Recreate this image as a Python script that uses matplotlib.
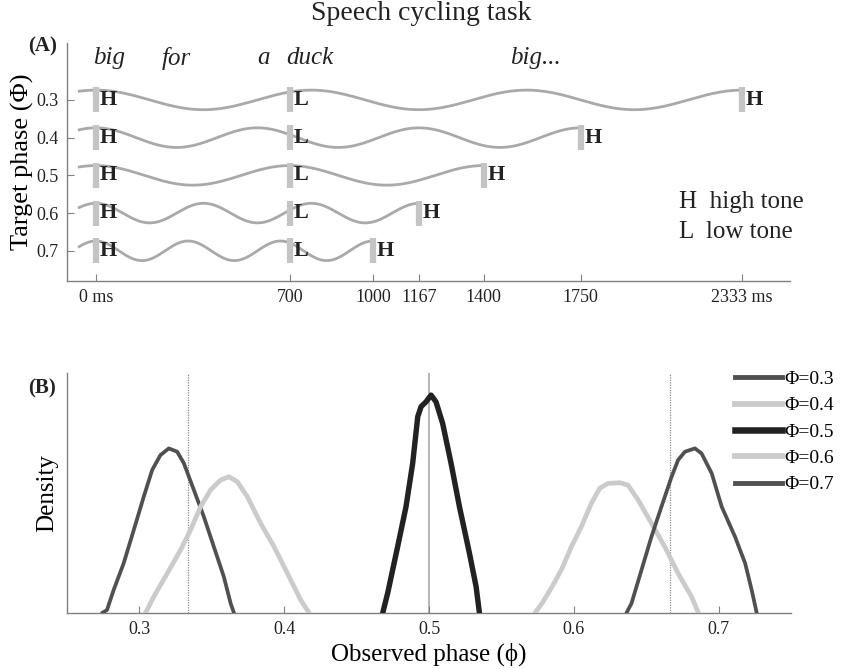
import numpy as np
import matplotlib
matplotlib.use('Agg')
import matplotlib.pyplot as plt
from matplotlib.lines import Line2D

plt.rcParams['font.family'] = ['Liberation Serif', 'DejaVu Serif']

# panel A: speech cycling schematic
target_phase = [0.3, 0.4, 0.5, 0.6, 0.7]
cycle_ms = [2333, 1750, 1400, 1167, 1000]     # next "big" onset
wave_cycles = [3, 3, 2, 3, 3]                  # oscillations drawn per cycle
l_onset = 700
xticks_a = [0, 700, 1000, 1167, 1400, 1750, 2333]
xticklabels_a = ['0 ms', '700', '1000', '1167', '1400', '1750', '2333 ms']
words = ['big', 'for', 'a', 'duck', 'big...']
word_ms = [-10, 239, 581, 689, 1496]

# panel B: observed phase densities (relative height)
x03 = [0.2742, 0.2776, 0.2822, 0.2891, 0.2961, 0.303, 0.3088, 0.3145, 0.3203, 0.3261, 0.3307,
       0.3376, 0.3445, 0.3514, 0.3583, 0.363, 0.3653]
y03 = [0.0, 0.0125, 0.096, 0.207, 0.346, 0.485, 0.596, 0.658, 0.686, 0.672, 0.624,
       0.5125, 0.401, 0.276, 0.151, 0.040, 0.0]
x04 = [0.3042, 0.3099, 0.3192, 0.3284, 0.3353, 0.3422, 0.3491, 0.356, 0.3618, 0.3676, 0.3745,
       0.3837, 0.393, 0.4022, 0.4114, 0.4172]
y04 = [0.0, 0.068, 0.165, 0.2625, 0.346, 0.443, 0.5125, 0.554, 0.568, 0.547, 0.485,
       0.374, 0.276, 0.165, 0.054, 0.0]
x05 = [0.468, 0.4714, 0.4783, 0.4841, 0.4887, 0.4922, 0.4945, 0.4979, 0.5014, 0.5048, 0.5094,
       0.5152, 0.521, 0.5279, 0.5325, 0.5348]
y05 = [0.0, 0.082, 0.276, 0.443, 0.624, 0.818, 0.86, 0.88, 0.908, 0.88, 0.79,
       0.624, 0.443, 0.249, 0.11, 0.0]
x06 = [0.573, 0.578, 0.585, 0.5913, 0.5983, 0.6052, 0.6121, 0.6179, 0.6236, 0.6317, 0.6374,
       0.6444, 0.6536, 0.6628, 0.672, 0.6813, 0.686]
y06 = [0.0, 0.04, 0.11, 0.179, 0.276, 0.36, 0.457, 0.52, 0.54, 0.543, 0.533,
       0.471, 0.374, 0.276, 0.165, 0.068, 0.0]
x07 = [0.6363, 0.6398, 0.6467, 0.6536, 0.6605, 0.6675, 0.672, 0.6767, 0.6836, 0.6882, 0.6952,
       0.7021, 0.7113, 0.7183, 0.7228, 0.7263]
y07 = [0.0, 0.04, 0.179, 0.318, 0.443, 0.568, 0.6375, 0.672, 0.686, 0.665, 0.582,
       0.443, 0.318, 0.207, 0.096, 0.0]
ref_phases = [1 / 3, 0.5, 2 / 3]

fig = plt.figure(figsize=(8.42, 6.69), dpi=100)

# ---------- (A) ----------
axA = fig.add_axes([0.0796, 0.580, 0.8587, 0.3558])
amp = 0.026
for ph, T, nc in zip(target_phase, cycle_ms, wave_cycles):
    t = np.linspace(-60, T, 600)
    axA.plot(t, ph - amp * np.cos(2 * np.pi * nc * t / T), color='#a9a9a9',
             lw=2.0, zorder=2)
    for tm, lab in [(0, 'H'), (l_onset, 'L'), (T, 'H')]:
        axA.vlines(tm, ph - 0.033, ph + 0.033, color='#c4c4c4', lw=4.5, zorder=3)
        axA.text(tm + 14, ph, lab, fontsize=16, fontweight='bold', color='#222222',
                 ha='left', va='center', zorder=4)

for w, tm in zip(words, word_ms):
    axA.text(tm, 0.19, w, fontsize=18, style='italic', ha='left', va='center', color='#222222')

axA.text(2106, 0.570, 'H  high tone', fontsize=18, ha='left', va='center', color='#222222')
axA.text(2106, 0.650, 'L  low tone', fontsize=18, ha='left', va='center', color='#222222')

axA.set_xlim(-104, 2506)
axA.set_ylim(0.78, 0.149)
axA.set_xticks(xticks_a)
axA.set_xticklabels(xticklabels_a)
axA.set_yticks(target_phase)
axA.set_yticklabels(['%.1f' % p for p in target_phase])
axA.set_ylabel('Target phase (Φ)', fontsize=19, labelpad=2)

# ---------- (B) ----------
axB = fig.add_axes([0.0796, 0.0837, 0.8599, 0.3587])
for xv in ref_phases:
    if xv == 0.5:
        axB.axvline(xv, color='#b5b5b5', lw=1.4, zorder=1)
    else:
        axB.axvline(xv, color='#8a8a8a', lw=0.9, ls=(0, (1, 1)), zorder=1)

styles = [
    (x03, y03, '#505050', 2.7),
    (x04, y04, '#cbcbcb', 3.4),
    (x05, y05, '#222222', 3.9),
    (x06, y06, '#cbcbcb', 3.4),
    (x07, y07, '#505050', 2.7),
]
handles = []
for xs, ys, c, lw in styles:
    axB.plot(xs, ys, color=c, lw=lw, solid_joinstyle='round', solid_capstyle='round', zorder=3)
    handles.append(Line2D([], [], color=c, lw=lw + 0.8))

axB.set_xlim(0.25, 0.75)
axB.set_ylim(0, 1)
axB.set_xticks([0.3, 0.4, 0.5, 0.6, 0.7])
axB.set_xticklabels(['0.3', '0.4', '0.5', '0.6', '0.7'])
axB.set_yticks([])
axB.set_xlabel('Observed phase (ϕ)', fontsize=18, labelpad=3)
axB.set_ylabel('Density', fontsize=18, labelpad=6)

fig.legend(handles, ['Φ=%.1f' % p for p in target_phase], loc='upper left',
           bbox_to_anchor=(0.864, 0.458), frameon=False, fontsize=14,
           handlelength=2.4, handletextpad=0.15, labelspacing=0.45, borderaxespad=0)

for ax in (axA, axB):
    for s in ('top', 'right'):
        ax.spines[s].set_visible(False)
    for s in ('left', 'bottom'):
        ax.spines[s].set_color('#808080')
        ax.spines[s].set_linewidth(1.0)
    ax.tick_params(direction='in', length=5, color='#808080', labelsize=13,
                   labelcolor='#222222', pad=6)

fig.text(0.5, 0.98, 'Speech cycling task', fontsize=20, ha='center', va='center', color='#222222')
fig.text(0.05, 0.93, '(A)', fontsize=15, fontweight='bold', ha='center', va='center', color='#222222')
fig.text(0.05, 0.42, '(B)', fontsize=15, fontweight='bold', ha='center', va='center', color='#222222')

fig.savefig('out.png', dpi=100)
